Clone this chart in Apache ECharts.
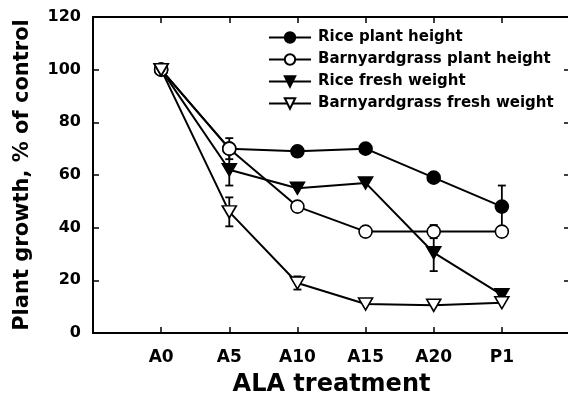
<!DOCTYPE html>
<html>
<head>
<meta charset="utf-8">
<script src="https://cdn.jsdelivr.net/npm/echarts@6/dist/echarts.min.js"></script>
<style>
    html, body { margin: 0; padding: 0; background: #fff; }
    #chart { width: 568px; height: 405px; }
</style>
</head>
<body>
<div id="chart"></div>
<script>
let categories = ['A0', 'A5', 'A10', 'A15', 'A20', 'P1'];
let yTicks = [0, 20, 40, 60, 80, 100, 120];

let riceHeight = [100, 70, 69, 70, 59, 48];
let riceHeightErr = [0, 4, 0, 0, 0, 8];
let barnHeight = [100, 70, 48, 38.5, 38.5, 38.5];
let barnHeightErr = [0, 0, 0, 0, 2.5, 0];
let riceWeight = [100, 62, 55, 57, 30.5, 14.5];
let riceWeightErr = [0, 6, 0, 0, 7, 0];
let barnWeight = [100, 46, 19, 11, 10.5, 11.5];
let barnWeightErr = [0, 5.5, 2.5, 0, 0, 0];

let fontFamily = '"DejaVu Sans", sans-serif';

function toPoints(values) {
    let result = [];
    for (let i = 0; i < values.length; i++) {
        result.push([i, values[i]]);
    }
    return result;
}

function toErrors(values, errs) {
    let result = [];
    for (let i = 0; i < values.length; i++) {
        if (errs[i] > 0) {
            result.push([i, values[i] - errs[i], values[i] + errs[i]]);
        }
    }
    return result;
}

function errorSeries(values, errs) {
    return {
        type: 'custom',
        z: 1,
        silent: true,
        data: toErrors(values, errs),
        renderItem: function (params, api) {
            let lo = api.coord([api.value(0), api.value(1)]);
            let hi = api.coord([api.value(0), api.value(2)]);
            let half = 4;
            let style = { stroke: '#000', lineWidth: 1.8 };
            return {
                type: 'group',
                children: [
                    { type: 'line', shape: { x1: lo[0], y1: lo[1], x2: hi[0], y2: hi[1] }, style: style },
                    { type: 'line', shape: { x1: lo[0] - half, y1: lo[1], x2: lo[0] + half, y2: lo[1] }, style: style },
                    { type: 'line', shape: { x1: hi[0] - half, y1: hi[1], x2: hi[0] + half, y2: hi[1] }, style: style }
                ]
            };
        }
    };
}

function lineSeries(name, values, symbol, filled) {
    return {
        name: name,
        type: 'line',
        z: 3,
        data: toPoints(values),
        symbol: symbol,
        symbolSize: symbol === 'circle' ? 13 : [14, 12],
        symbolRotate: symbol === 'triangle' ? 180 : 0,
        showAllSymbol: true,
        lineStyle: { color: '#000', width: 2 },
        itemStyle: {
            color: filled ? '#000' : '#fff',
            borderColor: '#000',
            borderWidth: 1.6
        }
    };
}

let chart = echarts.init(document.getElementById('chart'));

let axisText = { fontFamily: fontFamily, fontWeight: 'bold', color: '#000' };
let frameLine = { onZero: false, lineStyle: { color: '#000', width: 2 } };
let innerTick = { show: true, inside: true, length: 6, lineStyle: { color: '#000', width: 1.5 } };

let option = {
    animation: false,
    backgroundColor: '#fff',
    grid: { left: 93, width: 477, top: 17, height: 316, outerBoundsMode: 'none', containLabel: false },
    legend: {
        orient: 'vertical',
        left: 263,
        top: 25,
        itemWidth: 42,
        itemHeight: 13,
        itemGap: 7,
        data: ['Rice plant height', 'Barnyardgrass plant height', 'Rice fresh weight', 'Barnyardgrass fresh weight'],
        textStyle: { fontFamily: fontFamily, fontWeight: 'bold', fontSize: 15, color: '#000', padding: [0, 0, 0, 2] }
    },
    xAxis: [
        {
            type: 'value',
            min: -1,
            max: 6,
            interval: 1,
            name: 'ALA treatment',
            nameLocation: 'middle',
            nameGap: 40,
            nameTextStyle: Object.assign({ fontSize: 24 }, axisText),
            axisLine: frameLine,
            axisTick: innerTick,
            splitLine: { show: false },
            axisLabel: Object.assign({
                fontSize: 17,
                margin: 16,
                formatter: function (v) { return categories[v] || ''; }
            }, axisText)
        },
        {
            type: 'value',
            position: 'top',
            min: -1,
            max: 6,
            interval: 1,
            axisLine: frameLine,
            axisTick: innerTick,
            splitLine: { show: false },
            axisLabel: { show: false }
        }
    ],
    yAxis: [
        {
            type: 'value',
            min: yTicks[0],
            max: yTicks[yTicks.length - 1],
            interval: 20,
            name: 'Plant growth, % of control',
            nameLocation: 'middle',
            nameGap: 60,
            nameTextStyle: Object.assign({ fontSize: 21 }, axisText),
            axisLine: Object.assign({ show: true }, frameLine),
            axisTick: innerTick,
            splitLine: { show: false },
            axisLabel: Object.assign({ fontSize: 16, margin: 12 }, axisText)
        },
        {
            type: 'value',
            position: 'right',
            min: yTicks[0],
            max: yTicks[yTicks.length - 1],
            interval: 20,
            axisLine: Object.assign({ show: true }, frameLine),
            axisTick: innerTick,
            splitLine: { show: false },
            axisLabel: { show: false }
        }
    ],
    series: [
        errorSeries(riceHeight, riceHeightErr),
        errorSeries(barnHeight, barnHeightErr),
        errorSeries(riceWeight, riceWeightErr),
        errorSeries(barnWeight, barnWeightErr),
        lineSeries('Rice plant height', riceHeight, 'circle', true),
        lineSeries('Barnyardgrass plant height', barnHeight, 'circle', false),
        lineSeries('Rice fresh weight', riceWeight, 'triangle', true),
        lineSeries('Barnyardgrass fresh weight', barnWeight, 'triangle', false)
    ]
};

chart.setOption(option);
</script>
</body>
</html>
